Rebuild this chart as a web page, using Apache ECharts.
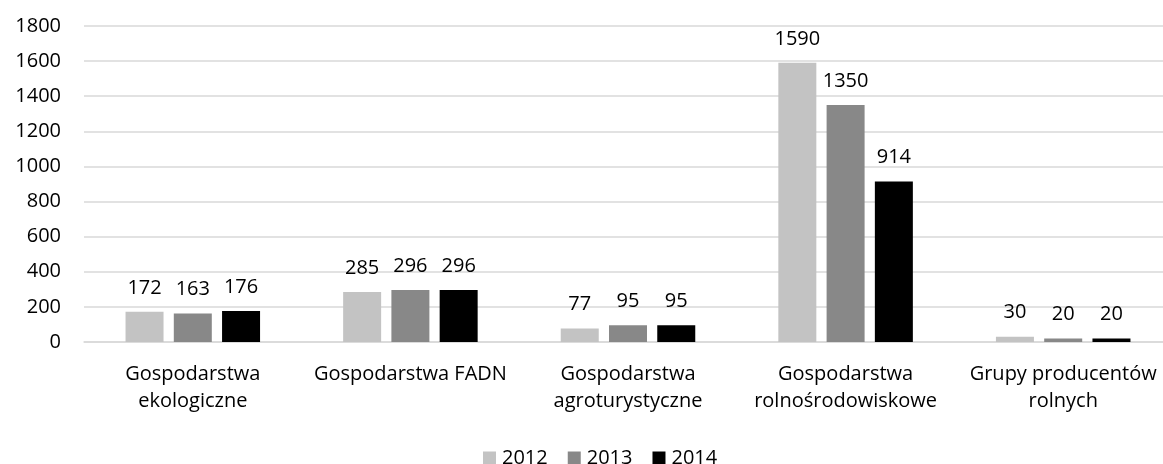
<!DOCTYPE html>
<html><head><meta charset="utf-8">
<script src="https://cdn.jsdelivr.net/npm/echarts@6/dist/echarts.min.js"></script>
<style>html,body{margin:0;padding:0;background:#fff;overflow:hidden;width:1163px;height:464px}#c{width:1172px;height:464px}</style>
</head><body><div id="c"></div>
<script>
const categories = ["Gospodarstwa\nekologiczne", "Gospodarstwa FADN", "Gospodarstwa\nagroturystyczne", "Gospodarstwa\nrolnośrodowiskowe", "Grupy producentów\nrolnych"];
const years = ["2012", "2013", "2014"];
const values2012 = [172, 285, 77, 1590, 30];
const values2013 = [163, 296, 95, 1350, 20];
const values2014 = [176, 296, 95, 914, 20];
const yTicks = {min: 0, max: 1800, interval: 200};
const colors = ["#c3c3c3", "#888888", "#000000"];
const font = "'Open Sans', 'Noto Sans', sans-serif";
const fs = 20;
const seriesData = [values2012, values2013, values2014];
const chart = echarts.init(document.getElementById('c'));
chart.setOption({
  animation: false,
  textStyle: {fontFamily: font},
  grid: {left: 84, right: 0, top: 26, bottom: 122},
  legend: {top: 448, left: 483, padding: 0, itemWidth: 13, itemHeight: 13, itemGap: 20,
    icon: 'rect', textStyle: {fontSize: fs, color: '#000', fontFamily: font, padding: [0,0,0,1]},
    data: years},
  xAxis: {type: 'category', data: categories,
    axisLine: {lineStyle: {color: '#d9d9d9', width: 1.5}}, axisTick: {show: false},
    axisLabel: {fontSize: fs, color: '#000', lineHeight: 27, margin: 19, interval: 0, fontFamily: font}},
  yAxis: {type: 'value', min: yTicks.min, max: yTicks.max, interval: yTicks.interval,
    axisLine: {show: false}, axisTick: {show: false},
    splitLine: {lineStyle: {color: '#d9d9d9', width: 1.5}},
    axisLabel: {fontSize: fs, color: '#000', margin: 23, fontFamily: font, formatter: v => String(v)}},
  series: years.map((y, i) => ({
    name: y, type: 'bar', data: seriesData[i], barWidth: 38, barGap: '27%',
    itemStyle: {color: colors[i]},
    label: {show: true, position: 'top', distance: 14, fontSize: fs, color: '#000', fontFamily: font}
  }))
});
</script></body></html>
